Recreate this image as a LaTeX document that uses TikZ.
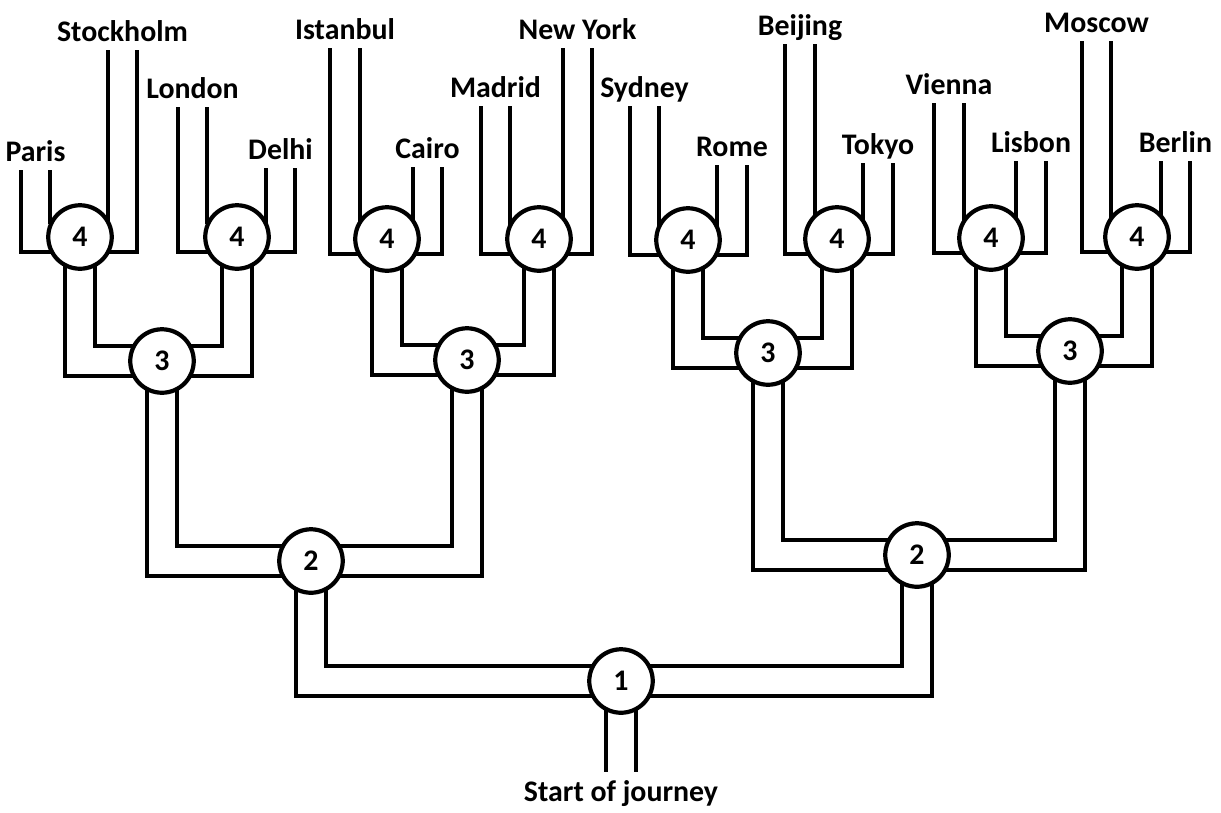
\documentclass[tikz,border=0pt]{standalone}
\usepackage{fontspec}
\setmainfont{Carlito}
\usetikzlibrary{backgrounds}

\begin{document}
\begin{tikzpicture}[x=0.02cm, y=-0.02cm,
        road/.style={line width=2.3pt, double=white, double distance=0.51cm},
        junction/.style={circle, draw, line width=2.4pt, fill=white, minimum size=1.27cm, inner sep=0pt, font=\bfseries\fontsize{17}{17}\selectfont},
        city/.style={anchor=south, text depth=0pt, inner xsep=0pt, inner ysep=4.5pt, font=\bfseries\fontsize{17}{17}\selectfont}]
        \useasboundingbox (0, 0) rectangle (1221, 812);

        \node[junction] (j1) at (621, 681) {1};
        \node[junction] (j2a) at (311, 561) {2};
        \node[junction] (j2b) at (917, 555) {2};
        \node[junction] (j3a) at (162, 361) {3};
        \node[junction] (j3b) at (467, 360) {3};
        \node[junction] (j3c) at (768, 353) {3};
        \node[junction] (j3d) at (1070, 351) {3};
        \node[junction] (j4a) at (80, 237) {4};
        \node[junction] (j4b) at (237, 237) {4};
        \node[junction] (j4c) at (387, 239) {4};
        \node[junction] (j4d) at (539, 239) {4};
        \node[junction] (j4e) at (688, 240) {4};
        \node[junction] (j4f) at (837, 239) {4};
        \node[junction] (j4g) at (991, 238) {4};
        \node[junction] (j4h) at (1137, 237) {4};

        \node[city] (paris) at (35.5, 170) {Paris};
        \node[city] (stockholm) at (122.5, 50) {Stockholm};
        \node[city] (london) at (192.5, 107) {London};
        \node[city] (delhi) at (280.5, 168) {Delhi};
        \node[city] (istanbul) at (345, 48) {Istanbul};
        \node[city] (cairo) at (427.5, 167) {Cairo};
        \node[city] (madrid) at (495.5, 106) {Madrid};
        \node[city] (newyork) at (577.5, 48) {New York};
        \node[city] (sydney) at (644.5, 106) {Sydney};
        \node[city] (rome) at (732, 165) {Rome};
        \node[city] (beijing) at (800, 44) {Beijing};
        \node[city] (tokyo) at (878, 163) {Tokyo};
        \node[city] (vienna) at (949, 103) {Vienna};
        \node[city] (lisbon) at (1031, 161) {Lisbon};
        \node[city] (moscow) at (1096.5, 41) {Moscow};
        \node[city] (berlin) at (1175.5, 161) {Berlin};
        \node[city, anchor=north] (start) at (621, 772) {Start of journey};

        \begin{scope}[on background layer]
            \draw[road] (j1.center) -- (start.north);
            \draw[road] (j2a.center) |- (j1.center);
            \draw[road] (j2b.center) |- (j1.center);
            \draw[road] (j3a.center) |- (j2a.center);
            \draw[road] (j3b.center) |- (j2a.center);
            \draw[road] (j3c.center) |- (j2b.center);
            \draw[road] (j3d.center) |- (j2b.center);
            \draw[road] (j4a.center) |- (j3a.center);
            \draw[road] (j4b.center) |- (j3a.center);
            \draw[road] (j4c.center) |- (j3b.center);
            \draw[road] (j4d.center) |- (j3b.center);
            \draw[road] (j4e.center) |- (j3c.center);
            \draw[road] (j4f.center) |- (j3c.center);
            \draw[road] (j4g.center) |- (j3d.center);
            \draw[road] (j4h.center) |- (j3d.center);

            \draw[road] (j4a.center) -| (paris.south);
            \draw[road] (j4a.center) -| (stockholm.south);
            \draw[road] (j4b.center) -| (london.south);
            \draw[road] (j4b.center) -| (delhi.south);
            \draw[road] (j4c.center) -| (istanbul.south);
            \draw[road] (j4c.center) -| (cairo.south);
            \draw[road] (j4d.center) -| (madrid.south);
            \draw[road] (j4d.center) -| (newyork.south);
            \draw[road] (j4e.center) -| (sydney.south);
            \draw[road] (j4e.center) -| (rome.south);
            \draw[road] (j4f.center) -| (beijing.south);
            \draw[road] (j4f.center) -| (tokyo.south);
            \draw[road] (j4g.center) -| (vienna.south);
            \draw[road] (j4g.center) -| (lisbon.south);
            \draw[road] (j4h.center) -| (moscow.south);
            \draw[road] (j4h.center) -| (berlin.south);
        \end{scope}
    \end{tikzpicture}
\end{document}
